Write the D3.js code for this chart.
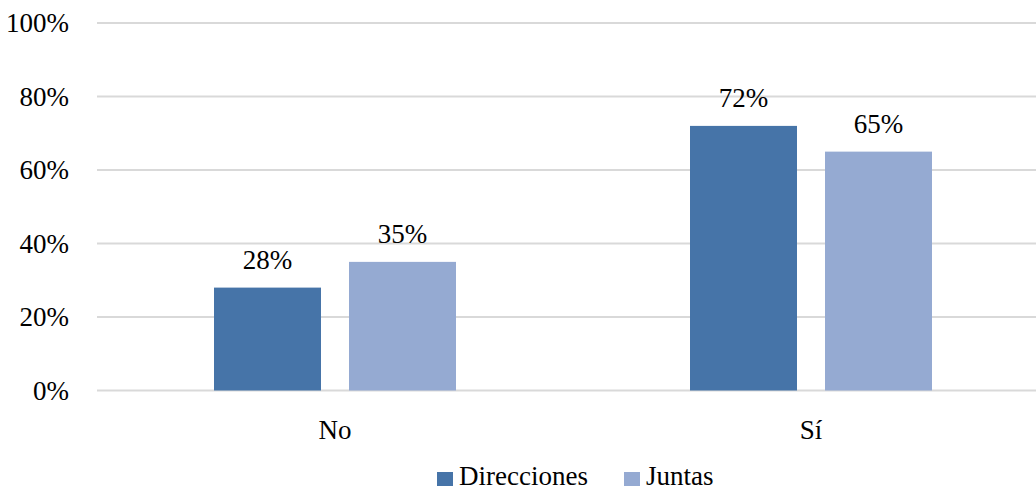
<!DOCTYPE html>
<html>
<head>
<meta charset="utf-8">
<script src="https://cdn.jsdelivr.net/npm/d3@7"></script>
<style>
  body { margin: 0; background: #fff; }
</style>
</head>
<body>
<svg id="chart"></svg>
<script>
// Data
const categories = ["No", "Sí"];
const seriesNames = ["Direcciones", "Juntas"];
const direcciones = [28, 72];
const juntas = [35, 65];
const yTicks = [0, 20, 40, 60, 80, 100];

const FONT = "Liberation Serif";
const FONT_SIZE = 27;

const dimensions = {
    width: 1036,
    height: 496,
    margin: { top: 23, bottom: 105, left: 97, right: -13 },
};

const colors = d3.scaleOrdinal()
    .domain(seriesNames)
    .range(["#4674a8", "#95aad2"]);

const dataset = categories.map((c, i) => ({
    category: c,
    values: [
        { series: "Direcciones", value: direcciones[i] },
        { series: "Juntas", value: juntas[i] },
    ],
}));

const svg = d3.select("#chart")
    .attr("width", dimensions.width)
    .attr("height", dimensions.height)
    .attr("font-family", FONT)
    .attr("font-size", FONT_SIZE);

const x0 = d3.scaleBand()
    .domain(categories)
    .range([dimensions.margin.left, dimensions.width - dimensions.margin.right]);

// bar width 107, inner gap 28
const x1 = d3.scaleBand()
    .domain(seriesNames)
    .range([x0.bandwidth() / 2 - 121, x0.bandwidth() / 2 + 121])
    .paddingInner(28 / 135);

const y = d3.scaleLinear()
    .domain([0, 100])
    .range([dimensions.height - dimensions.margin.bottom - 0.5, dimensions.margin.top]);

// Gridlines
svg.append("g")
    .selectAll("line")
    .data(yTicks)
    .join("line")
    .attr("x1", dimensions.margin.left)
    .attr("x2", dimensions.width)
    .attr("y1", d => y(d))
    .attr("y2", d => y(d))
    .attr("stroke", "#d9d9d9")
    .attr("stroke-width", 2);

// Y axis labels
const yAxis = svg.append("g")
    .attr("transform", `translate(${dimensions.margin.left - 28},0)`)
    .call(d3.axisLeft(y).tickValues(yTicks).tickFormat(d => d + "%").tickSize(0).tickPadding(0));
yAxis.attr("font-family", FONT).attr("font-size", FONT_SIZE);
yAxis.select(".domain").remove();
yAxis.selectAll("text")
    .attr("dy", "0.33em")
    .attr("fill", "#000")
    .attr("font-family", FONT)
    .attr("font-size", FONT_SIZE);

// Bars
const groups = svg.append("g")
    .selectAll("g")
    .data(dataset)
    .join("g")
    .attr("transform", d => `translate(${x0(d.category)},0)`);

groups.selectAll("rect")
    .data(d => d.values)
    .join("rect")
    .attr("x", d => x1(d.series))
    .attr("width", x1.bandwidth())
    .attr("y", d => y(d.value))
    .attr("height", d => y(0) - y(d.value))
    .attr("fill", d => colors(d.series));

groups.selectAll("text.label")
    .data(d => d.values)
    .join("text")
    .attr("class", "label")
    .attr("x", d => x1(d.series) + x1.bandwidth() / 2)
    .attr("y", d => y(d.value) - 19)
    .attr("text-anchor", "middle")
    .attr("fill", "#000")
    .attr("font-family", FONT)
    .attr("font-size", FONT_SIZE)
    .text(d => d.value + "%");

// Category labels
const xAxis = svg.append("g")
    .attr("transform", `translate(0,${y(0)})`)
    .call(d3.axisBottom(x0).tickSize(0).tickPadding(0));
xAxis.attr("font-family", FONT).attr("font-size", FONT_SIZE);
xAxis.select(".domain").remove();
xAxis.selectAll("text")
    .attr("y", 48)
    .attr("dy", 0)
    .attr("fill", "#000")
    .attr("font-family", FONT)
    .attr("font-size", FONT_SIZE);

// Legend
const legendItems = [
    { name: "Direcciones", x: 437 },
    { name: "Juntas", x: 624 },
];
const legend = svg.append("g");
legendItems.forEach(item => {
    legend.append("rect")
        .attr("x", item.x)
        .attr("y", 472)
        .attr("width", 16)
        .attr("height", 14)
        .attr("fill", colors(item.name));
    legend.append("text")
        .attr("x", item.x + 22)
        .attr("y", 485)
        .attr("fill", "#000")
        .attr("font-family", FONT)
        .attr("font-size", FONT_SIZE)
        .text(item.name);
});
</script>
</body>
</html>
